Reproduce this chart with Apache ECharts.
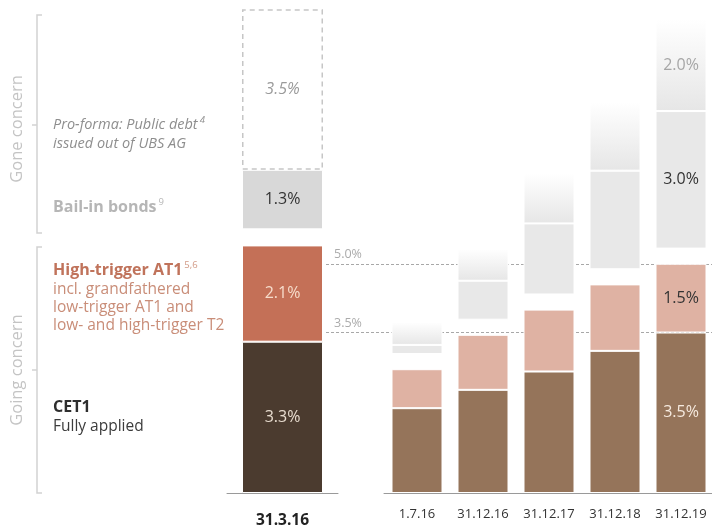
<!DOCTYPE html>
<html>
<head>
<meta charset="utf-8">
<script src="https://cdn.jsdelivr.net/npm/echarts@6/dist/echarts.min.js"></script>
<style>
  html, body { margin: 0; padding: 0; background: #fff; }
  #chart { width: 712px; height: 527px; }
</style>
</head>
<body>
<div id="chart"></div>
<script>
// Leverage ratio requirements (% of leverage ratio denominator)
const categoriesCurrent = ['31.3.16'];
const categoriesPhaseIn = ['1.7.16', '31.12.16', '31.12.17', '31.12.18', '31.12.19'];

// first value: 31.3.16, then the phase-in dates
const cet1 = [3.3, 1.85, 2.25, 2.65, 3.1, 3.5];
const highTriggerAT1 = [2.1, 0.85, 1.2, 1.35, 1.45, 1.5];
const goneConcernBase = [1.3, 0.2, 0.85, 1.55, 2.15, 3.0];
const goneConcernUpper = [3.5, 0.5, 0.7, 1.1, 1.5, 2.0];
const thresholdLines = [5.0, 3.5];
const labelledBars = [0, 5];

const FONT = '"Open Sans", "Noto Sans", sans-serif';
const Y_MAX = 10.6;

function pct(v) { return v.toFixed(1) + '%'; }

// styles per group: 0 = current bar, 1 = phase-in bars
const styles = [
  {
    cet1: { color: '#4b3b2f', label: '#e8dccf' },
    at1: { color: '#c47057', label: '#f6dccb' },
    base: { color: '#d8d8d8', label: '#333333' },
    upper: { color: '#ffffff', label: '#9a9a9a', italic: true,
             border: { borderColor: '#c6c6c6', borderType: [5, 4], borderWidth: 1.5 } },
    gap: 0.35, barWidth: 81
  },
  {
    cet1: { color: '#95745a', label: '#f6eadf' },
    at1: { color: '#dfb2a3', label: '#333333' },
    base: { color: '#e8e8e8', label: '#333333' },
    upper: {
      color: new echarts.graphic.LinearGradient(0, 0, 0, 1, [
        { offset: 0, color: '#ffffff' },
        { offset: 1, color: '#e6e6e6' }
      ]),
      label: '#a6a6a6'
    },
    gap: 0.33, barWidth: 51
  }
];

function seriesFor(group, from, to) {
  const st = styles[group];
  const stack = 'g' + group;
  const mk = (name, values, s) => ({
    name: name,
    type: 'bar',
    stack: stack,
    xAxisIndex: group,
    yAxisIndex: group,
    barWidth: st.barWidth,
    z: 2,
    itemStyle: Object.assign({ color: s.color, borderColor: '#ffffff', borderWidth: 1 }, s.border || {}),
    label: {
      show: false,
      position: 'inside',
      formatter: p => pct(p.value),
      color: s.label,
      fontFamily: FONT,
      fontSize: 16,
      fontStyle: s.italic ? 'italic' : 'normal'
    },
    data: values.slice(from, to).map((v, i) => ({
      value: v,
      label: { show: labelledBars.includes(from + i) }
    }))
  });
  const gapValues = cet1.slice(from, to).map(() => st.gap);
  return [
    mk('CET1', cet1, st.cet1),
    mk('High-trigger AT1', highTriggerAT1, st.at1),
    {
      name: 'spacer', type: 'bar', stack: stack, xAxisIndex: group, yAxisIndex: group,
      barWidth: st.barWidth, silent: true,
      itemStyle: { color: 'rgba(0,0,0,0)' },
      data: gapValues
    },
    mk('Gone concern', goneConcernBase, st.base),
    mk('Gone concern (upper)', goneConcernUpper, st.upper)
  ];
}

const chart = echarts.init(document.getElementById('chart'), null, { renderer: 'canvas' });

const yAxisBase = { type: 'value', min: 0, max: Y_MAX, show: false };

function supText(x, y, main, sup, mainStyle, supColor) {
  return {
    type: 'text', x: x, y: y, silent: true,
    style: {
      text: '{t|' + main + '}{s|' + sup + '}', verticalAlign: 'middle',
      rich: {
        t: Object.assign({ fontFamily: FONT, lineHeight: 20 }, mainStyle),
        s: { fontFamily: FONT, fontSize: 9.5, fontStyle: mainStyle.fontStyle || 'normal',
             fill: supColor, lineHeight: 20, verticalAlign: 'top', padding: [0, 0, 9, 2] }
      }
    }
  };
}

const gridBase = { top: 7, bottom: 34, outerBoundsMode: 'none', containLabel: false };

const option = {
  animation: false,
  backgroundColor: '#ffffff',
  grid: [
    Object.assign({ left: 227, width: 111 }, gridBase),
    Object.assign({ left: 384, width: 330 }, gridBase),
    Object.assign({ left: 326, right: 0 }, gridBase)
  ],
  xAxis: [
    {
      type: 'category', gridIndex: 0, data: categoriesCurrent,
      axisLine: { lineStyle: { color: '#9a9a9a', width: 1 } },
      axisTick: { show: false },
      axisLabel: { interval: 0, margin: 20, color: '#222222', fontFamily: FONT, fontSize: 15.5, fontWeight: 'bold' }
    },
    {
      type: 'category', gridIndex: 1, data: categoriesPhaseIn,
      axisLine: { lineStyle: { color: '#9a9a9a', width: 1 } },
      axisTick: { show: false },
      axisLabel: { interval: 0, margin: 15, color: '#333333', fontFamily: FONT, fontSize: 13 }
    },
    { type: 'value', gridIndex: 2, min: 0, max: 1, show: false }
  ],
  yAxis: [
    Object.assign({ gridIndex: 0 }, yAxisBase),
    Object.assign({ gridIndex: 1 }, yAxisBase),
    Object.assign({ gridIndex: 2 }, yAxisBase)
  ],
  series: [
    ...seriesFor(0, 0, 1),
    ...seriesFor(1, 1, 6),
    {
      name: 'thresholds', type: 'line', xAxisIndex: 2, yAxisIndex: 2, z: 1,
      data: [],
      markLine: {
        z: 1,
        silent: true,
        symbol: ['none', 'none'],
        lineStyle: { color: '#a8a8a8', type: [3, 2], width: 1 },
        label: {
          position: 'insideStartTop',
          distance: [8, 3],
          formatter: p => pct(p.value),
          color: '#ababab',
          fontFamily: FONT,
          fontSize: 12.5
        },
        data: thresholdLines.map(v => ({ yAxis: v }))
      }
    }
  ],
  graphic: [
    // group brackets
    { type: 'polyline', silent: true, shape: { points: [[42, 15], [37, 15], [37, 233], [42, 233]] },
      style: { stroke: '#d2d2d2', lineWidth: 1.5, fill: null } },
    { type: 'line', silent: true, shape: { x1: 32, y1: 125, x2: 37, y2: 125 },
      style: { stroke: '#d2d2d2', lineWidth: 1.5 } },
    { type: 'polyline', silent: true, shape: { points: [[42, 247], [37, 247], [37, 493], [42, 493]] },
      style: { stroke: '#d2d2d2', lineWidth: 1.5, fill: null } },
    { type: 'line', silent: true, shape: { x1: 32, y1: 370, x2: 37, y2: 370 },
      style: { stroke: '#d2d2d2', lineWidth: 1.5 } },
    { type: 'text', x: 17, y: 129, rotation: Math.PI / 2, silent: true,
      style: { text: 'Gone concern', align: 'center', verticalAlign: 'middle', fill: '#c4c4c4',
               font: '16.5px ' + FONT } },
    { type: 'text', x: 17, y: 370, rotation: Math.PI / 2, silent: true,
      style: { text: 'Going concern', align: 'center', verticalAlign: 'middle', fill: '#c4c4c4',
               font: '16.5px ' + FONT } },

    // category descriptions
    supText(53, 125, 'Pro-forma: Public debt', '4',
      { fontSize: 14.5, fontStyle: 'italic', fill: '#8e8e8e' }, '#8e8e8e'),
    { type: 'text', x: 53, y: 144, silent: true,
      style: { text: 'issued out of UBS AG', verticalAlign: 'middle', fill: '#8e8e8e',
               font: 'italic 14.5px ' + FONT } },
    supText(53, 207, 'Bail-in bonds', '9',
      { fontSize: 16, fontWeight: 'bold', fill: '#b6b6b6' }, '#b6b6b6'),
    supText(53, 270, 'High-trigger AT1', '5,6',
      { fontSize: 16, fontWeight: 'bold', fill: '#c0735b' }, '#d29a86'),
    { type: 'text', x: 53, y: 290, silent: true,
      style: { text: 'incl. grandfathered', verticalAlign: 'middle', fill: '#c98d78', font: '15.5px ' + FONT } },
    { type: 'text', x: 53, y: 308, silent: true,
      style: { text: 'low-trigger AT1 and', verticalAlign: 'middle', fill: '#c98d78', font: '15.5px ' + FONT } },
    { type: 'text', x: 53, y: 326, silent: true,
      style: { text: 'low- and high-trigger T2', verticalAlign: 'middle', fill: '#c98d78', font: '15.5px ' + FONT } },
    { type: 'text', x: 53, y: 407, silent: true,
      style: { text: 'CET1', verticalAlign: 'middle', fill: '#2e2e2e', font: 'bold 16px ' + FONT } },
    { type: 'text', x: 53, y: 427, silent: true,
      style: { text: 'Fully applied', verticalAlign: 'middle', fill: '#3c3c3c', font: '15.5px ' + FONT } }
  ]
};

chart.setOption(option);
</script>
</body>
</html>
